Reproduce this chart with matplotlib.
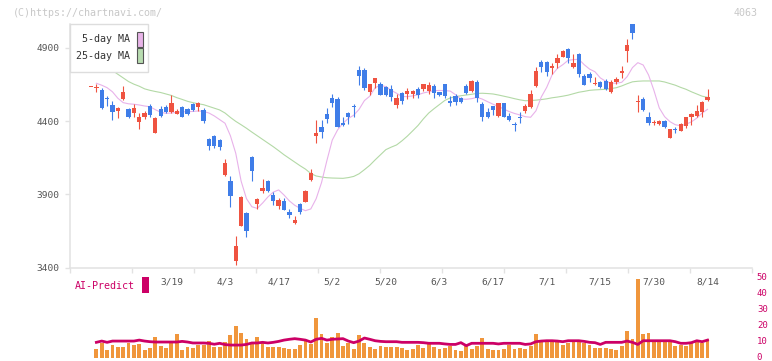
import numpy as np
import matplotlib
matplotlib.use('Agg')
import matplotlib.pyplot as plt
import matplotlib.transforms as mtransforms
from matplotlib.patches import Rectangle

nan = np.nan

# daily candles, index 0 = 2/26 ... 115 = 8/14
opens = [4634, 4624, 4612, 4555, 4510, 4469, 4548, 4481, 4453, 4396,
         4430, 4503, 4321, 4483, 4498, 4464, 4448, 4494, 4483, 4515,
         4498, 4476, 4278, 4300, 4271, 4032, 3991, 3442, 3686, 3770,
         4157, 3834, 3923, 3991, 3895, 3820, 3854, 3779, 3702, 3834,
         3849, 3998, 4300, 4362, 4448, 4556, 4553, 4389, 4453, 4505,
         4749, 4749, 4601, 4658, 4651, 4635, 4619, 4510, 4590, 4583,
         4583, 4619, 4619, 4607, 4640, 4597, 4653, 4537, 4571, 4556,
         4640, 4606, 4665, 4515, 4464, 4503, 4435, 4526, 4437, 4380,
         4425, 4471, 4494, 4640, 4801, 4801, 4760, 4799, 4840, 4892,
         4771, 4858, 4708, 4722, 4651, 4665, 4676, 4601, 4669, 4731,
         4881, 5060, 4528, 4549, 4426, 4389, 4382, 4401, 4282, 4344,
         4335, 4366, 4426, 4435, 4464, 4544]
highs = [4636, 4653, 4624, 4570, 4540, 4498, 4640, 4491, 4517, 4453,
         4471, 4517, 4426, 4503, 4510, 4578, 4480, 4500, 4490, 4522,
         4532, 4487, 4282, 4305, 4276, 4141, 4023, 3615, 3890, 3779,
         4160, 3877, 4004, 4000, 3918, 3873, 3873, 3800, 3752, 3843,
         3930, 4075, 4407, 4407, 4487, 4585, 4562, 4430, 4464, 4515,
         4776, 4760, 4653, 4696, 4665, 4640, 4646, 4583, 4597, 4624,
         4613, 4635, 4653, 4669, 4651, 4601, 4653, 4574, 4583, 4567,
         4651, 4681, 4681, 4532, 4490, 4505, 4526, 4526, 4453, 4392,
         4464, 4515, 4612, 4767, 4817, 4812, 4799, 4856, 4885, 4901,
         4858, 4863, 4720, 4737, 4699, 4676, 4687, 4681, 4703, 4776,
         4961, 5062, 4578, 4562, 4460, 4410, 4407, 4407, 4344, 4362,
         4385, 4430, 4453, 4510, 4537, 4619]
lows = [4634, 4597, 4485, 4500, 4407, 4423, 4545, 4419, 4430, 4346,
        4414, 4430, 4317, 4430, 4457, 4453, 4446, 4428, 4440, 4470,
        4471, 4385, 4203, 4214, 4203, 4025, 3815, 3419, 3686, 3610,
        3991, 3797, 3907, 3916, 3825, 3802, 3793, 3736, 3697, 3767,
        3847, 3993, 4252, 4287, 4385, 4494, 4359, 4368, 4380, 4430,
        4647, 4612, 4578, 4624, 4575, 4570, 4537, 4487, 4515, 4549,
        4556, 4556, 4606, 4585, 4560, 4574, 4556, 4505, 4510, 4521,
        4583, 4601, 4532, 4401, 4419, 4442, 4430, 4428, 4403, 4332,
        4385, 4453, 4492, 4630, 4737, 4710, 4722, 4765, 4836, 4795,
        4765, 4703, 4644, 4669, 4646, 4626, 4612, 4594, 4653, 4696,
        4806, 4959, 4464, 4469, 4373, 4373, 4370, 4351, 4282, 4317,
        4330, 4355, 4373, 4426, 4430, 4537]
closes = [4636, 4635, 4491, 4550, 4465, 4487, 4600, 4430, 4487, 4430,
          4457, 4444, 4423, 4435, 4464, 4526, 4469, 4430, 4446, 4476,
          4526, 4403, 4232, 4232, 4225, 4114, 3890, 3549, 3883, 3651,
          4061, 3868, 3943, 3923, 3856, 3861, 3793, 3759, 3724, 3781,
          3925, 4048, 4321, 4328, 4414, 4526, 4359, 4373, 4426, 4494,
          4710, 4628, 4653, 4692, 4578, 4578, 4567, 4560, 4539, 4606,
          4606, 4578, 4651, 4646, 4590, 4578, 4574, 4521, 4532, 4532,
          4594, 4675, 4556, 4430, 4426, 4476, 4521, 4430, 4407, 4372,
          4420, 4503, 4583, 4742, 4771, 4737, 4776, 4833, 4881, 4829,
          4799, 4722, 4646, 4696, 4662, 4631, 4617, 4665, 4687, 4742,
          4920, 5004, 4537, 4476, 4385, 4396, 4401, 4362, 4344, 4336,
          4378, 4426, 4446, 4469, 4528, 4567]

ma5 = [nan, 4658, 4645, 4628, 4600, 4556, 4526, 4518, 4515, 4510,
       4503, 4498, 4478, 4460, 4453, 4455, 4460, 4463, 4464, 4466,
       4469, 4466, 4455, 4435, 4410, 4385, 4300, 4180, 3990, 3870,
       3815, 3804, 3840, 3882, 3915, 3930, 3895, 3855, 3825, 3804,
       3788, 3800, 3870, 3980, 4130, 4270, 4340, 4385, 4418, 4440,
       4480, 4540, 4570, 4628, 4645, 4635, 4610, 4590, 4568, 4567,
       4572, 4580, 4592, 4600, 4608, 4609, 4608, 4605, 4580, 4550,
       4549, 4553, 4562, 4550, 4532, 4515, 4500, 4482, 4465, 4452,
       4442, 4430, 4426, 4470, 4565, 4630, 4715, 4760, 4785, 4815,
       4820, 4822, 4785, 4755, 4737, 4695, 4672, 4660, 4658, 4665,
       4703, 4765, 4799, 4783, 4715, 4610, 4490, 4430, 4396, 4375,
       4368, 4378, 4395, 4420, 4455, 4480]
ma25 = [nan, nan, nan, 4775, 4745, 4720, 4695, 4670, 4652, 4638,
        4620, 4610, 4602, 4595, 4585, 4575, 4560, 4548, 4535, 4526,
        4518, 4512, 4500, 4488, 4476, 4455, 4425, 4398, 4375, 4351,
        4325, 4300, 4275, 4250, 4225, 4198, 4170, 4145, 4120, 4095,
        4072, 4042, 4025, 4018, 4013, 4011, 4010, 4009, 4014, 4022,
        4040, 4068, 4098, 4135, 4170, 4205, 4222, 4237, 4265, 4297,
        4333, 4370, 4415, 4455, 4485, 4513, 4541, 4558, 4567, 4573,
        4578, 4583, 4589, 4590, 4588, 4585, 4578, 4570, 4562, 4553,
        4545, 4539, 4540, 4543, 4547, 4552, 4559, 4564, 4570, 4577,
        4587, 4597, 4603, 4610, 4613, 4615, 4617, 4622, 4628, 4640,
        4655, 4668, 4672, 4674, 4674, 4674, 4674, 4667, 4656, 4645,
        4630, 4617, 4600, 4585, 4570, 4562]

# AI-Predict panel
ai_bars = [0, 5.4, 9.4, 4.8, 7.9, 6.5, 6.5, 9.4, 7.9, 8.8,
           4.8, 6.1, 12.7, 7.3, 6.1, 9.0, 14.8, 4.8, 6.5, 6.0,
           7.9, 7.9, 10.5, 6.5, 6.9, 9.8, 14.1, 19.8, 15.6, 11.8,
           10.0, 12.9, 9.0, 6.7, 6.5, 6.5, 6.1, 5.2, 5.4, 7.9,
           10.4, 8.7, 24.6, 14.8, 9.5, 13.0, 15.6, 7.3, 9.3, 5.3,
           14.1, 9.5, 6.5, 5.6, 7.3, 6.5, 6.7, 6.5, 5.9, 4.8,
           5.4, 7.9, 6.0, 8.4, 6.7, 5.5, 6.0, 7.3, 4.8, 4.3,
           7.2, 5.4, 7.2, 12.4, 5.4, 4.8, 4.8, 5.4, 7.9, 5.4,
           5.8, 5.4, 7.1, 14.8, 11.0, 11.0, 10.0, 10.0, 7.9, 9.0,
           10.0, 10.0, 9.0, 7.9, 5.8, 5.8, 6.1, 5.4, 4.8, 7.3,
           16.7, 11.7, 49.2, 14.8, 15.6, 10.0, 10.0, 10.0, 10.0, 7.3,
           7.9, 7.3, 9.0, 10.0, 9.0, 11.7]
ai_line = [nan, 9.6, 10.4, 9.6, 10.4, 10.4, 10.4, 10.4, 10.4, 11.0,
           10.4, 10.0, 9.8, 9.8, 9.8, 9.8, 9.8, 10.2, 9.8, 9.2,
           9.2, 9.2, 9.0, 8.4, 9.0, 8.2, 7.9, 7.9, 7.9, 8.3,
           9.2, 9.2, 9.6, 9.2, 9.6, 10.2, 11.0, 11.5, 11.9, 11.5,
           11.0, 9.8, 11.5, 12.1, 11.0, 11.5, 11.7, 11.9, 10.4, 9.4,
           10.4, 12.3, 11.5, 10.6, 10.2, 10.0, 10.0, 10.0, 9.6, 9.6,
           9.6, 9.6, 9.4, 9.0, 9.0, 9.0, 8.6, 8.3, 8.3, 9.4,
           7.5, 9.0, 9.0, 9.0, 9.0, 9.0, 8.6, 9.0, 9.0, 9.0,
           9.0, 8.3, 8.6, 10.0, 10.4, 10.6, 10.6, 10.4, 10.0, 10.6,
           10.6, 10.6, 10.2, 9.6, 9.4, 8.3, 9.6, 9.6, 9.6, 9.6,
           10.4, 9.6, 8.3, 10.6, 10.6, 10.6, 10.6, 10.6, 10.6, 10.0,
           9.0, 9.0, 9.4, 10.6, 10.0, 11.0]

date_pos = [15, 25, 35, 45, 55, 65, 75, 85, 95, 105, 115]
date_labels = ['3/19', '4/3', '4/17', '5/2', '5/20', '6/3', '6/17',
               '7/1', '7/15', '7/30', '8/14']
price_ticks = [3400, 3900, 4400, 4900]

RED = '#ef5341'
BLUE = '#3f7de8'
MONO = 'DejaVu Sans Mono'
W, H = 772, 361


def box(x0, y0, x1, y1):
    # pixel box (top-left origin) -> figure fraction rect
    return [x0 / W, 1 - y1 / H, (x1 - x0) / W, (y1 - y0) / H]


def fx(x):
    return x / W


def fy(y):
    return 1 - y / H


fig = plt.figure(figsize=(W / 100, H / 100), dpi=100)
fig.patch.set_facecolor('white')

xlim = (-3.92, 123.3)

# main candle chart
ax = fig.add_axes(box(70, 24, 752, 267.5))
idx = np.arange(len(closes))
ax.plot(idx, ma25, color='#b3d9a6', lw=0.8, zorder=2)
ax.plot(idx, ma5, color='#e8b2ea', lw=0.8, zorder=2)

for i in idx:
    o, h, l, c = opens[i], highs[i], lows[i], closes[i]
    col = RED if c >= o else BLUE
    ax.vlines(i, l, h, color=col, lw=0.8, zorder=3)
    ax.bar(i, max(abs(c - o), 7), bottom=min(o, c), width=0.8,
           color=col, lw=0, zorder=3)

ax.set_xlim(*xlim)
ax.set_ylim(3400, 5063)
for s in ['top', 'right']:
    ax.spines[s].set_visible(False)
for s in ['left', 'bottom']:
    ax.spines[s].set_color('#e2e2e2')
    ax.spines[s].set_linewidth(1.1)

ax.set_xticks(np.linspace(xlim[0], xlim[1], 12))
ax.set_xticklabels([])
ax.set_xticks(date_pos, minor=True)
ax.set_xticklabels(date_labels, minor=True)
ax.tick_params(axis='x', which='major', length=3.8, width=1, color='#e2e2e2')
ax.tick_params(axis='x', which='minor', length=0, pad=7.5,
               labelsize=6.8, labelcolor='#555555')
ax.set_yticks(price_ticks)
ax.set_yticklabels([str(p) for p in price_ticks])
ax.tick_params(axis='y', length=3.8, width=1, color='#e2e2e2', pad=4,
               labelsize=6.8, labelcolor='#555555')
for t in ax.get_xticklabels(minor=True) + ax.get_yticklabels():
    t.set_family(MONO)

# AI-Predict panel (transparent so the date labels above stay visible)
vax = fig.add_axes(box(70, 277.7, 752, 357.7))
vax.patch.set_visible(False)
vax.bar(idx, ai_bars, width=0.72, color='#f0963c', lw=0)
vax.plot(idx, ai_line, color='#cc0066', lw=2.0)
vax.set_xlim(*xlim)
vax.set_ylim(0, 50)
for s in vax.spines.values():
    s.set_visible(False)
vax.set_xticks([])
vax.yaxis.tick_right()
vax.set_yticks([0, 10, 20, 30, 40, 50])
vax.tick_params(axis='y', length=0, pad=3.5, labelsize=6.5,
                labelcolor='#cc0066')
lift = mtransforms.ScaledTranslation(0, 1.5 / 100, fig.dpi_scale_trans)
for t in vax.get_yticklabels():
    t.set_family(MONO)
    t.set_transform(t.get_transform() + lift)

# header texts
fig.text(fx(13), fy(12.5), '(C)https://chartnavi.com/', color='#c8c8c8',
         fontsize=7.2, family=MONO, va='center', ha='left')
fig.text(fx(758), fy(12.5), '4063', color='#c8c8c8',
         fontsize=7.2, family=MONO, va='center', ha='right')

# legend box
fig.add_artist(Rectangle((fx(70), fy(71.7)), (148.3 - 70) / W, (71.7 - 24) / H,
                         transform=fig.transFigure, facecolor='white',
                         edgecolor='#dddddd', lw=1))
fig.text(fx(130), fy(39.5), '5-day MA', color='#333333', fontsize=7.2,
         family=MONO, va='center', ha='right')
fig.text(fx(130), fy(56), '25-day MA', color='#333333', fontsize=7.2,
         family=MONO, va='center', ha='right')
fig.add_artist(Rectangle((fx(136.7), fy(46.7)), 6 / W, 15 / H,
                         transform=fig.transFigure, facecolor='#e8b4e8',
                         edgecolor='#555555', lw=0.8))
fig.add_artist(Rectangle((fx(136.7), fy(63.3)), 6 / W, 15 / H,
                         transform=fig.transFigure, facecolor='#b8dcb0',
                         edgecolor='#555555', lw=0.8))

# AI-Predict label
fig.text(fx(75), fy(286), 'AI-Predict', color='#cc0066', fontsize=7.2,
         family=MONO, va='center', ha='left')
fig.add_artist(Rectangle((fx(142.3), fy(292.7)), 6.4 / W, 15.4 / H,
                         transform=fig.transFigure, facecolor='#cc0066',
                         edgecolor='none'))

fig.savefig('out.png', dpi=100)
